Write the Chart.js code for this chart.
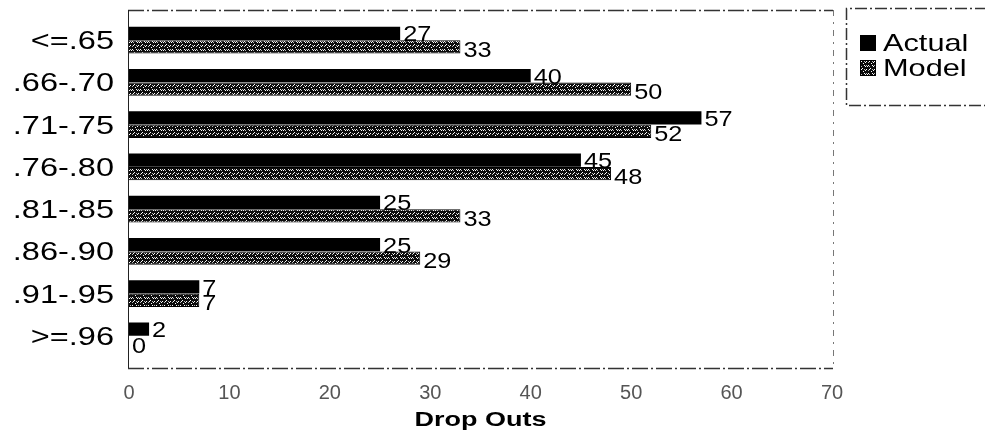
<!DOCTYPE html>
<html>
<head>
<meta charset="utf-8">
<script src="https://cdn.jsdelivr.net/npm/chart.js@4/dist/chart.umd.min.js"></script>
<style>
  html, body { margin: 0; padding: 0; background: #fff; }
  #wrap { width: 985px; height: 441px; position: relative; }
</style>
</head>
<body>
<div id="wrap"><canvas id="c" width="985" height="441"></canvas></div>
<script>
// Drop-out counts by score band: observed vs. model prediction
const categories = ['<=.65', '.66-.70', '.71-.75', '.76-.80', '.81-.85', '.86-.90', '.91-.95', '>=.96'];
const actualValues = [27, 40, 57, 45, 25, 25, 7, 2];
const modelValues  = [33, 50, 52, 48, 33, 29, 7, 0];
const xTicks = [0, 10, 20, 30, 40, 50, 60, 70];
const seriesNames = ['Actual', 'Model'];
const axisTitle = 'Drop Outs';

const FONT = "'Liberation Sans', Arial, sans-serif";

// Dark fill with a scattered white speckle, used for the model series
function speckle() {
  const c = document.createElement('canvas');
  c.width = 8; c.height = 8;
  const g = c.getContext('2d');
  g.fillStyle = '#0c0c0c';
  g.fillRect(0, 0, 8, 8);
  g.fillStyle = '#fff';
  [[0,1],[1,2],[4,1],[3,2],[6,4],[5,5],[2,5],[1,6],[7,7]].forEach(p => g.fillRect(p[0], p[1], 1, 1));
  g.fillStyle = '#bbb';
  [[2,1],[5,2],[0,5],[4,6]].forEach(p => g.fillRect(p[0], p[1], 1, 1));
  return g.createPattern(c, 'repeat');
}
const modelFill = speckle();

// Text drawn with a horizontal stretch factor
function wideText(ctx, text, x, y, sx) {
  ctx.save();
  ctx.translate(x, y);
  ctx.scale(sx, 1);
  ctx.fillText(text, 0, 0);
  ctx.restore();
}

// Dashed plot frame, slightly outside the category band
const framePlugin = {
  id: 'frame',
  beforeDatasetsDraw(chart) {
    const { ctx, chartArea: a } = chart;
    const L = a.left - 1, R = a.right + 1, T = a.top - 9, B = a.bottom + 11;
    ctx.save();
    ctx.lineWidth = 1.5;
    ctx.strokeStyle = '#333';
    ctx.setLineDash([16, 3, 2, 3]);
    ctx.beginPath(); ctx.moveTo(L, T + 0.5); ctx.lineTo(R, T + 0.5); ctx.stroke();
    ctx.beginPath(); ctx.moveTo(L, B + 0.5); ctx.lineTo(R, B + 0.5); ctx.stroke();
    ctx.strokeStyle = '#777';
    ctx.lineWidth = 1;
    ctx.setLineDash([6, 6, 2, 6]);
    ctx.beginPath(); ctx.moveTo(R + 0.5, T); ctx.lineTo(R + 0.5, B); ctx.stroke();
    ctx.setLineDash([]);
    ctx.strokeStyle = '#222';
    ctx.beginPath(); ctx.moveTo(L + 0.5, T); ctx.lineTo(L + 0.5, B); ctx.stroke();
    ctx.restore();
  }
};

// Category names, value labels and the axis title
const textPlugin = {
  id: 'texts',
  afterDatasetsDraw(chart) {
    const { ctx, chartArea: a } = chart;
    const y = chart.scales.y;
    ctx.save();
    ctx.fillStyle = '#000';
    ctx.textBaseline = 'middle';

    // category names, right-aligned left of the plot
    ctx.font = '25px ' + FONT;
    ctx.textAlign = 'right';
    chart.data.labels.forEach((lab, i) => {
      wideText(ctx, lab, a.left - 15, y.getPixelForValue(i) + 2, 1.3);
    });

    // values just past the end of each bar
    ctx.font = '22px ' + FONT;
    ctx.textAlign = 'left';
    chart.data.datasets.forEach((ds, di) => {
      const meta = chart.getDatasetMeta(di);
      meta.data.forEach((bar, i) => {
        const dy = di === 0 ? 2 : 4;
        wideText(ctx, String(ds.data[i]), bar.x + 3, bar.y + dy, 1.15);
      });
    });

    // axis title
    ctx.font = 'bold 20px ' + FONT;
    ctx.textAlign = 'center';
    wideText(ctx, axisTitle, (a.left + a.right) / 2, 420, 1.35);
    ctx.restore();
  }
};

// Boxed legend to the right of the plot
const sideLegend = {
  id: 'sideLegend',
  afterDraw(chart) {
    const { ctx, chartArea: a } = chart;
    const bx = a.right + 14, top = 8, bottom = 105, right = chart.width + 2;
    ctx.save();
    ctx.strokeStyle = '#333';
    ctx.lineWidth = 1.5;
    ctx.setLineDash([12, 3, 2, 3]);
    ctx.beginPath();
    ctx.moveTo(right, top + 0.5); ctx.lineTo(bx + 0.5, top + 0.5);
    ctx.lineTo(bx + 0.5, bottom + 0.5); ctx.lineTo(right, bottom + 0.5);
    ctx.stroke();
    ctx.setLineDash([]);
    const fills = ['#000', modelFill];
    const ys = [43, 68];
    ctx.font = '24px ' + FONT;
    ctx.textBaseline = 'middle';
    ctx.textAlign = 'left';
    chart.data.datasets.forEach((ds, i) => {
      const sx = bx + 14, sy = ys[i] - 8;
      ctx.fillStyle = fills[i];
      ctx.fillRect(sx, sy, 16, 16);
      ctx.lineWidth = 1;
      ctx.strokeStyle = '#000';
      ctx.strokeRect(sx + 0.5, sy + 0.5, 15, 15);
      ctx.fillStyle = '#000';
      wideText(ctx, ds.label, sx + 23, ys[i] + 1, 1.28);
    });
    ctx.restore();
  }
};

new Chart(document.getElementById('c'), {
  type: 'bar',
  data: {
    labels: categories,
    datasets: [
      { label: seriesNames[0], data: actualValues, backgroundColor: '#000', borderColor: '#000', borderWidth: 0 },
      { label: seriesNames[1], data: modelValues, backgroundColor: modelFill, borderColor: '#000', borderWidth: 1 }
    ]
  },
  options: {
    indexAxis: 'y',
    responsive: false,
    animation: false,
    events: [],
    layout: { padding: { top: 19, right: 153, left: 0, bottom: 9 } },
    datasets: { bar: { categoryPercentage: 0.64, barPercentage: 0.98 } },
    plugins: { legend: { display: false }, tooltip: { enabled: false } },
    scales: {
      x: {
        type: 'linear',
        min: 0,
        max: 70,
        afterBuildTicks(scale) { scale.ticks = xTicks.map(v => ({ value: v })); },
        afterFit(scale) { scale.height = 75; },
        grid: { display: false, drawTicks: false },
        border: { display: false },
        ticks: { padding: 24, color: '#555', font: { family: FONT, size: 20 } }
      },
      y: {
        afterFit(scale) { scale.width = 129; },
        grid: { display: false, drawTicks: false },
        border: { display: false },
        ticks: { display: false }
      }
    }
  },
  plugins: [framePlugin, textPlugin, sideLegend]
});
</script>
</body>
</html>
